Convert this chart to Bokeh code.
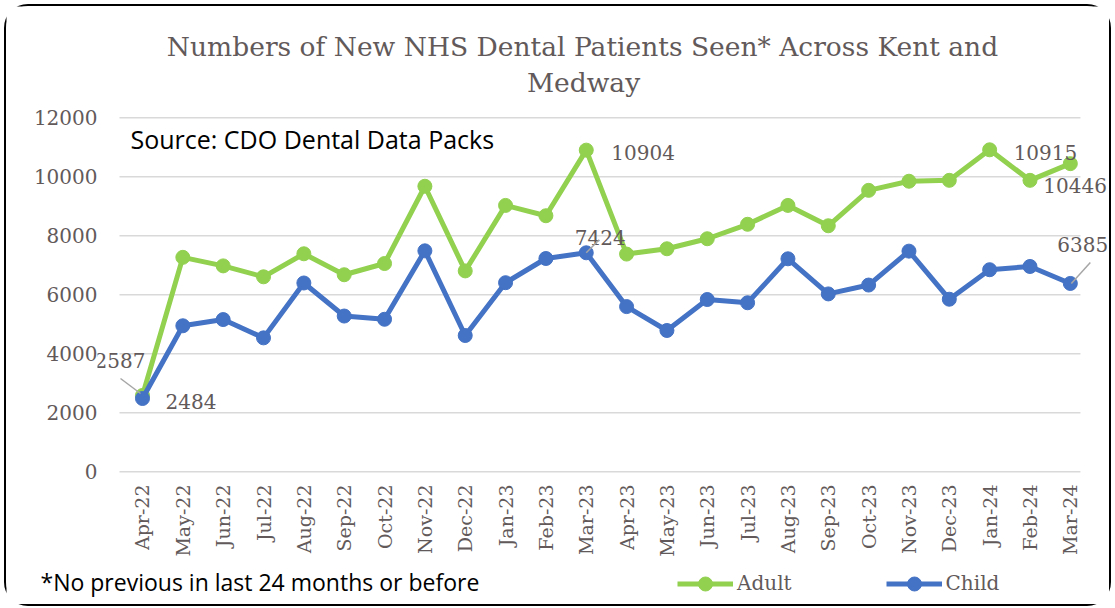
import math
from bokeh.plotting import figure
from bokeh.layouts import column
from bokeh.models import (Range1d, FixedTicker, Label, Arrow, Legend, LegendItem)
from bokeh.embed import file_html
from bokeh.resources import INLINE

months = ["Apr-22", "May-22", "Jun-22", "Jul-22", "Aug-22", "Sep-22", "Oct-22", "Nov-22",
          "Dec-22", "Jan-23", "Feb-23", "Mar-23", "Apr-23", "May-23", "Jun-23", "Jul-23",
          "Aug-23", "Sep-23", "Oct-23", "Nov-23", "Dec-23", "Jan-24", "Feb-24", "Mar-24"]
adult = [2587, 7270, 6980, 6610, 7390, 6680, 7060, 9680, 6810, 9030, 8680, 10904,
         7380, 7560, 7900, 8390, 9030, 8340, 9540, 9850, 9880, 10915, 9880, 10446]
child = [2484, 4950, 5160, 4540, 6400, 5280, 5170, 7490, 4620, 6410, 7230, 7424,
         5600, 4790, 5840, 5730, 7220, 6030, 6330, 7480, 5850, 6850, 6960, 6385]
y_ticks = [0, 2000, 4000, 6000, 8000, 10000, 12000]

title_1 = "Numbers of New NHS Dental Patients Seen* Across Kent and"
title_2 = "Medway"
source_text = "Source: CDO Dental Data Packs"
note_text = "*No previous in last 24 months or before"

GREEN = "#92D050"
BLUE = "#4472C4"
TXT = "#625a5a"
SERIF = "DejaVu Serif"
SANS = "Open Sans"

W = 1103
H_HEAD, H_MAIN, H_FOOT = 100, 460, 38
X0, X1 = -1.1155, 23.971
Y0, Y1 = -58, 12078
FRAME_W, FRAME_H = 1012, 358
TOP = 9


def blank(height):
    fig = figure(width=W, height=height, output_backend="svg", toolbar_location=None,
                 x_range=Range1d(0, W), y_range=Range1d(0, height),
                 x_axis_type=None, y_axis_type=None, min_border_left=0,
                 min_border_right=0, min_border_top=0, min_border_bottom=0)
    fig.outline_line_color = None
    fig.background_fill_color = "white"
    fig.border_fill_color = "white"
    return fig


# header with the two-line title
hd = blank(H_HEAD)
hd.add_layout(Label(x=576, y=H_HEAD - 40, text=title_1, text_align="center",
                    text_baseline="middle", text_font=SERIF, text_font_size="26.5px",
                    text_color=TXT))
hd.add_layout(Label(x=577, y=H_HEAD - 76, text=title_2, text_align="center",
                    text_baseline="middle", text_font=SERIF, text_font_size="26.5px",
                    text_color=TXT))

# main chart
p = figure(width=W, height=H_MAIN, output_backend="svg", toolbar_location=None,
           x_range=Range1d(X0, X1), y_range=Range1d(Y0, Y1),
           min_border_left=W - FRAME_W, min_border_right=0, min_border_top=TOP,
           min_border_bottom=H_MAIN - TOP - FRAME_H)
p.outline_line_color = None
p.background_fill_color = "white"
p.border_fill_color = "white"

PX_X = (X1 - X0) / FRAME_W
PX_Y = (Y1 - Y0) / FRAME_H

xs = list(range(len(months)))

p.xaxis.ticker = FixedTicker(ticks=xs)
p.xaxis.major_label_overrides = {i: m for i, m in enumerate(months)}
p.xaxis.major_label_orientation = math.pi / 2
p.xaxis.axis_line_color = None
p.xaxis.major_tick_line_color = None
p.xaxis.minor_tick_line_color = None
p.xaxis.major_tick_out = 0
p.xaxis.major_label_standoff = 11
p.xaxis.major_label_text_font = SERIF
p.xaxis.major_label_text_font_size = "19px"
p.xaxis.major_label_text_color = TXT

p.yaxis.ticker = FixedTicker(ticks=y_ticks)
p.yaxis.axis_line_color = None
p.yaxis.major_tick_line_color = None
p.yaxis.minor_tick_line_color = None
p.yaxis.major_tick_out = 0
p.yaxis.major_label_standoff = 0
p.yaxis.major_label_text_font = SERIF
p.yaxis.major_label_text_font_size = "20px"
p.yaxis.major_label_text_color = TXT

p.xgrid.grid_line_color = None
p.ygrid.grid_line_color = None

# horizontal gridlines spanning the category band
g0, g1 = -0.57, len(months) - 1 + 0.25
p.segment(x0=[g0] * len(y_ticks), x1=[g1] * len(y_ticks), y0=y_ticks, y1=y_ticks,
          line_color="#d9d9d9", line_width=1.5)

# series
p.line(xs, adult, line_color=GREEN, line_width=5, line_join="round")
p.scatter(xs, adult, size=14, fill_color=GREEN, line_color=GREEN)
p.line(xs, child, line_color=BLUE, line_width=5, line_join="round")
p.scatter(xs, child, size=14, fill_color=BLUE, line_color=BLUE)


def dlabel(i, val, dx, dy, align="left"):
    p.add_layout(Label(x=i, y=val, x_offset=dx, y_offset=dy, text=str(val),
                       text_align=align, text_baseline="middle",
                       text_font=SERIF, text_font_size="20px", text_color=TXT))


def leader(i, val, sx0, sy0, sx1, sy1):
    p.add_layout(Arrow(end=None, x_start=i + sx0 * PX_X, y_start=val + sy0 * PX_Y,
                       x_end=i + sx1 * PX_X, y_end=val + sy1 * PX_Y,
                       line_color="#a6a6a6", line_width=1.5))


dlabel(0, adult[0], 3, 35, "right")
leader(0, adult[0], -22, 17, -2, 2)
dlabel(0, child[0], 23, -3)
dlabel(11, adult[11], 25, -2)
dlabel(11, child[11], 14, 15, "center")
leader(11, child[11], 0, 0, 13, 13)
dlabel(21, adult[21], 24, -3)
dlabel(23, adult[23], -27, -22)
dlabel(23, child[23], -13, 39)
leader(23, child[23], 1, 0, 20, 21)

p.add_layout(Label(x=0, y=12000, x_offset=-12, y_offset=-21, text=source_text,
                   text_align="left", text_baseline="middle", text_font=SANS,
                   text_font_size="25px", text_color="black"))

# footer: note + legend
f = blank(H_FOOT)
f.add_layout(Label(x=34, y=23, text=note_text, text_align="left", text_baseline="middle",
                   text_font=SANS, text_font_size="23px", text_color="black"))

# legend keys: same series, drawn outside the footer's visible range
ka = f.line(xs, adult, line_color=GREEN, line_width=5)
kas = f.scatter(xs, adult, size=14, fill_color=GREEN, line_color=GREEN)
kc = f.line(xs, child, line_color=BLUE, line_width=5)
kcs = f.scatter(xs, child, size=14, fill_color=BLUE, line_color=BLUE)
lg = Legend(items=[LegendItem(label="Adult", renderers=[ka, kas]),
                   LegendItem(label="Child", renderers=[kc, kcs])],
            location=(671, 3.5), orientation="horizontal", padding=0, margin=0,
            spacing=94, border_line_color=None, background_fill_alpha=0,
            glyph_width=56, glyph_height=35, label_standoff=4,
            label_text_font=SERIF, label_text_font_size="20px",
            label_text_color=TXT)
f.add_layout(lg, "center")

for fig in (hd, p, f):
    try:
        fig.frame_align = False
    except Exception:
        pass

layout = column(hd, p, f, spacing=0)
layout.margin = (4, 0, 0, 4)
layout.styles = {"border": "2px solid black", "border-radius": "24px"}

open("out.html", "w").write(file_html(layout, INLINE))
